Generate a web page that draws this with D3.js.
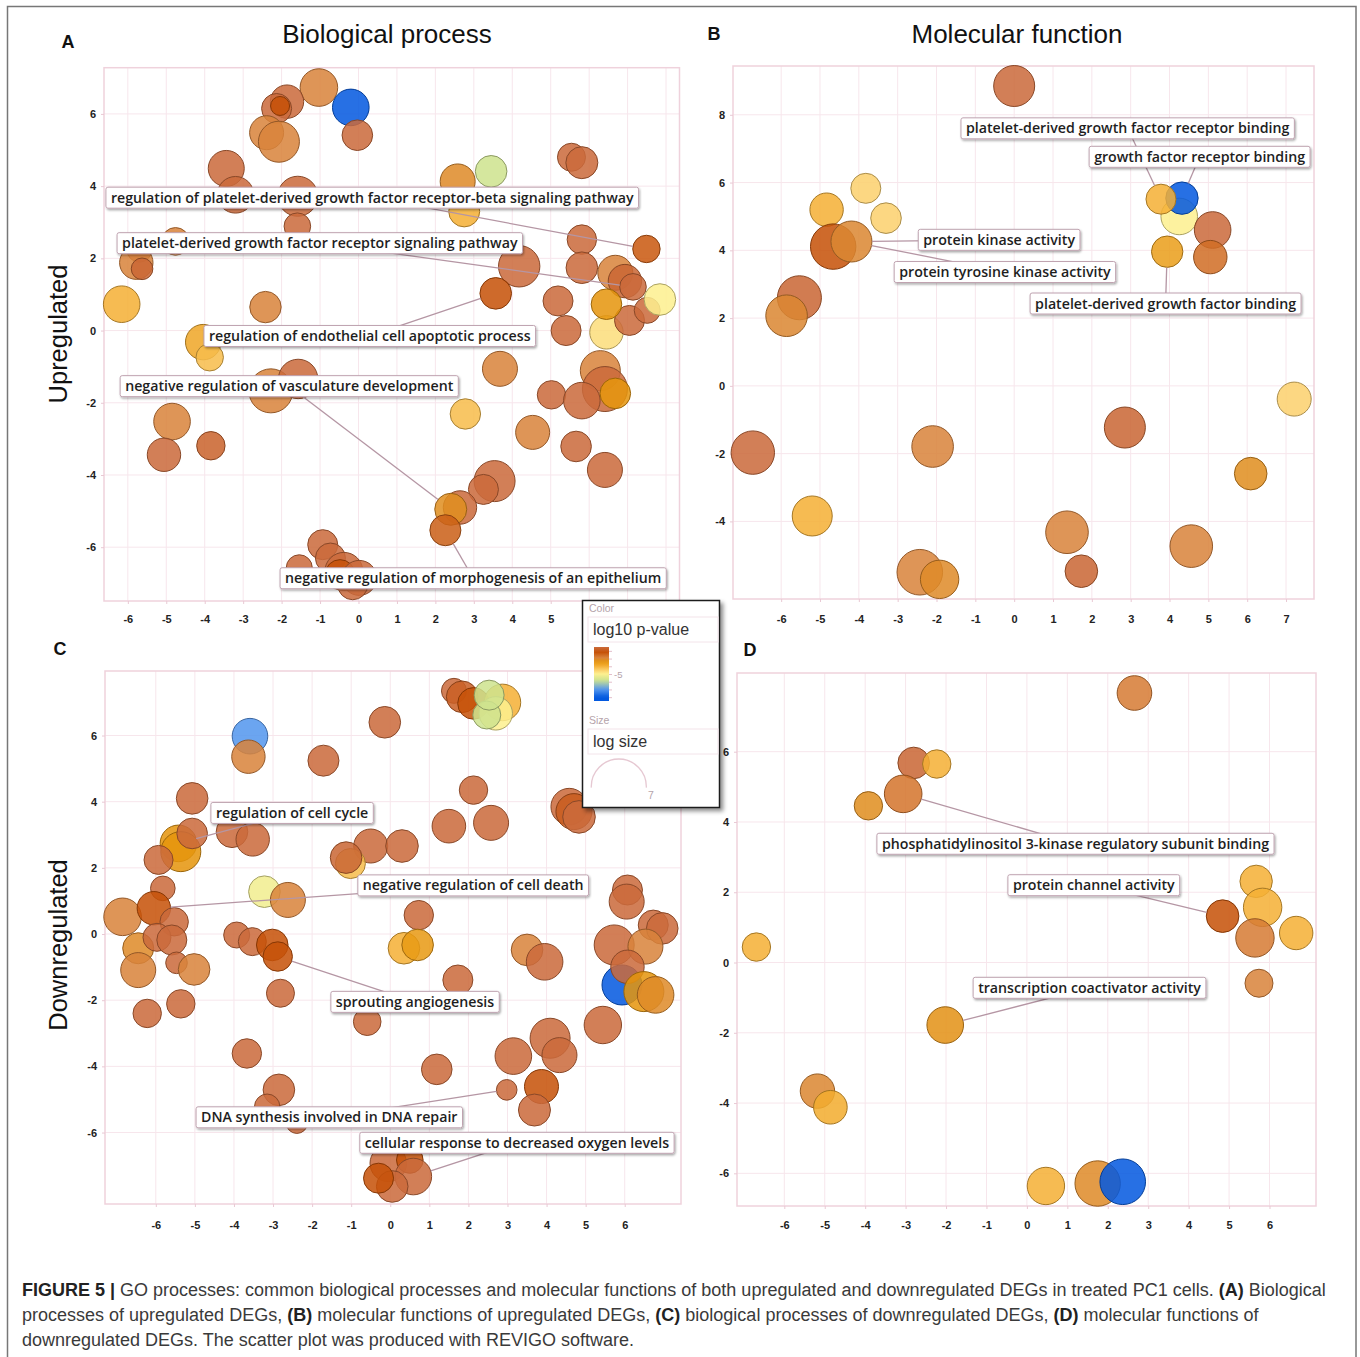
<!DOCTYPE html>
<html>
<head>
<meta charset="utf-8">
<script src="https://cdn.jsdelivr.net/npm/d3@7"></script>
<style>
  body { margin: 0; background: #fff; }
  svg { display: block; }
</style>
</head>
<body>
<svg id="fig" width="1360" height="1357"></svg>
<script>
// ---------- GO term tables: [x, y, log size, log10 p-value] ----------
const upBP = [
  [-1.03, 6.73, 3.76, -2.9], [-0.20, 6.18, 3.66, -8.0], [-0.03, 5.41, 3.06, -1.5],
  [-1.86, 6.34, 3.34, -1.5], [-2.13, 6.15, 3.00, -1.5], [-2.04, 6.22, 1.90, -2.2],
  [-2.39, 5.48, 3.40, -2.9], [-2.07, 5.23, 4.10, -2.9], [-3.44, 4.49, 3.60, -1.5],
  [-3.20, 3.76, 3.66, -1.5], [-1.58, 3.72, 4.00, -1.5], [-1.59, 2.89, 2.66, -1.5],
  [2.58, 4.13, 3.50, -3.1], [3.45, 4.41, 3.16, -5.8], [2.75, 3.30, 3.10, -4.0],
  [5.54, 4.80, 2.80, -1.5], [5.81, 4.65, 3.20, -1.5], [5.81, 2.52, 2.94, -1.5],
  [7.49, 2.26, 2.74, -2.3], [4.18, 1.78, 4.14, -1.5], [5.81, 1.74, 3.16, -1.5],
  [6.68, 1.60, 3.50, -2.9], [6.45, -0.05, 3.34, -4.7], [6.93, 1.37, 3.34, -1.6],
  [7.14, 1.21, 2.66, -1.5], [3.57, 1.03, 3.16, -2.2], [5.19, 0.82, 3.00, -1.5],
  [5.40, 0.00, 3.00, -1.5], [7.05, 0.28, 3.00, -1.5], [7.51, 0.56, 2.60, -1.5],
  [6.45, 0.73, 3.06, -3.4], [7.84, 0.86, 3.16, -5.0], [-5.70, 2.24, 2.50, -1.5],
  [-5.78, 1.88, 3.34, -2.9], [-5.63, 1.71, 2.16, -1.6], [-4.76, 2.47, 2.76, -2.9],
  [-6.16, 0.73, 3.66, -4.0], [-2.42, 0.65, 3.14, -2.9], [3.68, -1.06, 3.50, -2.9],
  [6.29, -1.11, 4.00, -2.9], [6.41, -1.62, 4.50, -1.5], [5.02, -1.78, 2.84, -1.5],
  [5.81, -1.94, 3.66, -1.5], [6.68, -1.74, 3.06, -3.4], [4.53, -2.82, 3.40, -2.9],
  [5.66, -3.21, 3.06, -1.5], [6.41, -3.86, 3.50, -1.5], [2.78, -2.31, 3.04, -4.2],
  [3.54, -4.17, 4.10, -1.5], [3.25, -4.40, 3.00, -1.5], [2.64, -4.90, 3.34, -1.5],
  [2.40, -4.95, 3.20, -3.2], [2.26, -5.53, 3.10, -2.4], [-4.04, -0.32, 3.54, -3.8],
  [-3.87, -0.74, 2.74, -4.2], [-2.28, -1.67, 4.40, -2.9], [-1.57, -1.34, 3.94, -1.5],
  [-4.85, -2.52, 3.66, -2.9], [-5.06, -3.44, 3.34, -1.5], [-3.84, -3.19, 2.84, -1.7],
  [-0.93, -5.93, 3.00, -1.5], [-0.73, -6.30, 3.00, -1.5], [-1.54, -6.57, 2.60, -1.5],
  [-0.38, -6.67, 3.80, -1.5], [-0.48, -6.76, 3.00, -2.2], [0.02, -6.85, 3.50, -1.5],
  [-0.15, -7.04, 3.00, -1.5]
];
const upMF = [
  [0.00, 8.85, 4.10, -1.5], [-3.82, 5.83, 3.00, -4.5], [-4.83, 5.20, 3.34, -4.0],
  [-3.30, 4.95, 3.06, -4.5], [-4.66, 4.11, 4.54, -2.2], [-4.19, 4.26, 4.10, -3.0],
  [-5.53, 2.60, 4.40, -1.6], [-5.86, 2.07, 4.16, -3.0], [4.25, 5.00, 3.66, -5.0],
  [4.32, 5.54, 3.24, -8.0], [3.78, 5.51, 3.00, -4.0], [5.11, 4.60, 3.66, -1.5],
  [3.94, 3.96, 3.14, -3.6], [5.05, 3.80, 3.34, -2.6], [-6.73, -1.97, 4.34, -1.5],
  [-2.10, -1.79, 4.16, -2.9], [2.85, -1.23, 4.10, -1.6], [7.21, -0.39, 3.40, -4.5],
  [6.09, -2.59, 3.26, -3.2], [-5.20, -3.84, 4.00, -4.0], [1.36, -4.32, 4.26, -2.9],
  [4.56, -4.73, 4.26, -2.9], [1.73, -5.47, 3.26, -1.6], [-2.43, -5.50, 4.56, -2.9],
  [-1.92, -5.71, 3.84, -3.1]
];
const downBP = [
  [-3.59, 5.98, 3.56, -7.0], [-3.63, 5.36, 3.34, -2.9], [-1.71, 5.24, 3.10, -1.5],
  [-0.14, 6.40, 3.16, -1.5], [1.63, 7.35, 2.50, -1.5], [1.84, 7.17, 3.16, -1.8],
  [2.13, 6.97, 3.16, -2.2], [2.87, 7.00, 3.66, -4.0], [2.70, 6.67, 3.34, -5.0],
  [2.47, 6.62, 2.80, -5.8], [2.53, 7.22, 3.00, -5.8], [2.13, 4.35, 2.84, -1.5],
  [1.50, 3.26, 3.36, -1.5], [2.58, 3.36, 3.50, -1.5], [-0.50, 2.66, 3.40, -1.5],
  [0.30, 2.66, 3.26, -1.5], [-1.02, 2.13, 3.00, -4.2], [-1.13, 2.31, 3.16, -1.6],
  [4.58, 3.85, 3.66, -1.5], [4.70, 3.70, 3.60, -1.9], [4.83, 3.54, 3.26, -1.5],
  [-5.07, 4.10, 3.16, -1.5], [-5.42, 2.74, 3.66, -3.4], [-5.36, 2.49, 4.00, -3.4],
  [-5.07, 3.04, 3.06, -1.5], [-5.93, 2.24, 2.90, -1.5], [-4.05, 3.09, 3.16, -1.5],
  [-3.52, 2.86, 3.34, -1.5], [-3.22, 1.28, 3.16, -5.2], [-2.62, 1.03, 3.50, -2.9],
  [-5.82, 1.38, 2.46, -1.5], [-6.85, 0.52, 3.76, -2.9], [-6.05, 0.78, 3.34, -2.2],
  [-5.53, 0.37, 2.84, -1.5], [0.73, 0.57, 2.94, -1.5], [6.07, 1.33, 3.00, -1.5],
  [6.05, 0.98, 3.50, -1.5], [6.73, 0.27, 3.00, -1.5], [6.96, 0.17, 3.16, -1.5],
  [-6.45, -0.43, 3.10, -3.1], [-5.97, -0.10, 2.80, -1.5], [-5.59, -0.18, 3.00, -1.5],
  [-6.45, -1.09, 3.50, -2.9], [-5.47, -0.87, 2.16, -1.5], [-5.02, -1.07, 3.16, -2.9],
  [-6.22, -2.40, 2.84, -1.5], [-5.36, -2.11, 2.84, -1.5], [-3.93, -0.03, 2.60, -1.5],
  [-3.53, -0.23, 2.80, -1.5], [-3.02, -0.33, 3.16, -2.2], [-2.88, -0.68, 2.94, -2.2],
  [-2.81, -1.79, 2.80, -1.5], [0.35, -0.43, 3.16, -4.0], [0.70, -0.33, 3.16, -3.5],
  [1.73, -1.39, 3.00, -1.5], [-0.59, -2.65, 2.76, -1.5], [3.50, -0.48, 3.16, -2.9],
  [3.95, -0.84, 3.66, -1.5], [-3.67, -3.61, 2.94, -1.5], [-2.85, -4.71, 3.16, -1.5],
  [-3.15, -5.22, 2.54, -1.5], [-2.39, -5.70, 2.16, -1.5], [1.19, -4.09, 3.06, -1.5],
  [3.15, -3.69, 3.66, -1.5], [4.09, -3.15, 4.00, -1.5], [4.33, -3.66, 3.50, -1.5],
  [2.98, -4.71, 2.06, -1.5], [3.87, -4.61, 3.40, -2.2], [3.69, -5.32, 3.20, -1.5],
  [5.44, -2.75, 3.74, -1.5], [5.73, -0.33, 4.00, -1.5], [6.53, -0.38, 3.50, -2.9],
  [5.93, -1.54, 4.00, -8.0], [6.07, -0.99, 3.34, -1.5], [6.49, -1.74, 4.00, -3.4],
  [6.79, -1.84, 3.66, -3.1], [-0.05, -6.93, 3.66, -1.5], [0.50, -6.83, 2.66, -2.2],
  [0.59, -7.33, 3.66, -1.5], [0.05, -7.63, 3.16, -1.5], [-0.30, -7.38, 3.00, -2.2]
];
const downMF = [
  [2.66, 7.67, 3.46, -2.8], [-2.80, 5.68, 3.16, -1.6], [-2.23, 5.65, 2.84, -4.0],
  [-3.06, 4.80, 3.76, -2.7], [-3.92, 4.46, 2.84, -3.2], [5.67, 2.31, 3.24, -4.0],
  [5.83, 1.57, 3.84, -4.0], [5.64, 0.70, 3.84, -2.8], [4.84, 1.32, 3.26, -2.2],
  [6.66, 0.84, 3.34, -4.0], [-6.69, 0.44, 2.84, -4.0], [5.74, -0.59, 2.80, -2.9],
  [-2.02, -1.78, 3.66, -3.3], [-5.18, -3.66, 3.44, -3.0], [-4.86, -4.12, 3.36, -3.9],
  [0.47, -6.36, 3.74, -4.0], [1.75, -6.29, 4.54, -3.1], [2.37, -6.24, 4.56, -8.0]
];

// ---------- named terms: [text, row index of the term] ----------
const upBPLabels = [
  ["regulation of platelet-derived growth factor receptor-beta signaling pathway", 18],
  ["platelet-derived growth factor receptor signaling pathway", 24],
  ["regulation of endothelial cell apoptotic process", 25],
  ["negative regulation of vasculature development", 51],
  ["negative regulation of morphogenesis of an epithelium", 52]
];
const upMFLabels = [
  ["platelet-derived growth factor receptor binding", 10],
  ["growth factor receptor binding", 9],
  ["protein kinase activity", 5],
  ["protein tyrosine kinase activity", 5],
  ["platelet-derived growth factor binding", 12]
];
const downBPLabels = [
  ["regulation of cell cycle", 22],
  ["negative regulation of cell death", 32],
  ["sprouting angiogenesis", 50],
  ["DNA synthesis involved in DNA repair", 66],
  ["cellular response to decreased oxygen levels", 78]
];
const downMFLabels = [
  ["phosphatidylinositol 3-kinase regulatory subunit binding", 3],
  ["protein channel activity", 8],
  ["transcription coactivator activity", 12]
];

// ---------- tick labels ----------
const upBPXTicks = [-6, -5, -4, -3, -2, -1, 0, 1, 2, 3, 4, 5];
const upMFXTicks = [-6, -5, -4, -3, -2, -1, 0, 1, 2, 3, 4, 5, 6, 7];
const downXTicks = [-6, -5, -4, -3, -2, -1, 0, 1, 2, 3, 4, 5, 6];
const upMFYTicks = [-4, -2, 0, 2, 4, 6, 8];
const evenYTicks = [-6, -4, -2, 0, 2, 4, 6];

// ---------- colour (log10 p-value) and size (log size) ----------
const pStops  = [-1.5, -2.2, -2.9, -3.4, -4.0, -4.5, -5.0, -5.8, -7.0, -8.0];
const pColors = ['#cb6a3b', '#c65208', '#d9833b', '#e5950d', '#f4b036',
                 '#fcd16d', '#fdf08f', '#cee38e', '#5396ee', '#0359df'];
const color = d3.scaleLinear().domain(pStops).range(pColors)
  .interpolate(d3.interpolateRgb).clamp(true);
const radius = d3.scaleLinear().domain([0, 7]).range([0, 35]);

const FONT = '"Liberation Sans", Arial, Helvetica, sans-serif';
const LABEL_FONT = '"Open Sans", "DejaVu Sans", sans-serif';

const svg = d3.select('#fig');
const defs = svg.append('defs');
defs.append('filter').attr('id', 'boxShadow').attr('x', '-10%').attr('y', '-30%')
  .attr('width', '130%').attr('height', '170%')
  .append('feDropShadow').attr('dx', 1).attr('dy', 1.5).attr('stdDeviation', 1)
  .attr('flood-color', '#000').attr('flood-opacity', 0.35);
defs.append('filter').attr('id', 'legendShadow').attr('x', '-10%').attr('y', '-10%')
  .attr('width', '130%').attr('height', '130%')
  .append('feDropShadow').attr('dx', 3).attr('dy', 3).attr('stdDeviation', 2)
  .attr('flood-color', '#000').attr('flood-opacity', 0.45);

// outer figure frame
svg.append('rect').attr('x', 7.5).attr('y', 6.5).attr('width', 1348.5).attr('height', 1380)
  .attr('fill', 'none').attr('stroke', '#777').attr('stroke-width', 1.5);

// ---------- panel layout ----------
const panels = [
  { letter: 'A', letterPos: [68, 48], rows: upBP, labels: upBPLabels,
    labelAt: [[-6.57, 3.68], [-6.28, 2.42], [-4.02, -0.15], [-6.2, -1.54], [-2.04, -6.86]],
    xTicks: upBPXTicks, yTicks: evenYTicks, gridX: d3.range(-6, 9),
    frame: { left: 104, right: 679.5, top: 67.7, bottom: 601 },
    xDom: [-6.62, 8.35], yDom: [-7.49, 7.28], xGap: 11 },
  { letter: 'B', letterPos: [714, 40], rows: upMF, labels: upMFLabels,
    labelAt: [[-1.37, 7.6], [1.93, 6.76], [-2.47, 4.31], [-3.09, 3.36], [0.41, 2.43]],
    xTicks: upMFXTicks, yTicks: upMFYTicks,
    frame: { left: 733, right: 1314, top: 66, bottom: 599 },
    xDom: [-7.24, 7.72], yDom: [-6.29, 9.44], xGap: 13 },
  { letter: 'C', letterPos: [60, 655], rows: downBP, labels: downBPLabels,
    labelAt: [[-4.59, 3.66], [-0.83, 1.47], [-1.52, -2.05], [-4.97, -5.54], [-0.78, -6.31]],
    xTicks: downXTicks, yTicks: evenYTicks,
    frame: { left: 105, right: 681, top: 671, bottom: 1204 },
    xDom: [-7.3, 7.44], yDom: [-8.16, 7.95], xGap: 14 },
  { letter: 'D', letterPos: [750, 656], rows: downMF, labels: downMFLabels,
    labelAt: [[-3.71, 3.38], [-0.47, 2.2], [-1.33, -0.72]],
    xTicks: downXTicks, yTicks: evenYTicks,
    frame: { left: 737, right: 1316, top: 673, bottom: 1206 },
    xDom: [-7.17, 7.15], yDom: [-6.93, 8.24], xGap: 12 }
];

function drawPanel(p) {
  const f = p.frame;
  const g = svg.append('g');
  const x = d3.scaleLinear().domain(p.xDom).range([f.left, f.right]);
  const y = d3.scaleLinear().domain(p.yDom).range([f.bottom, f.top]);

  // grid
  g.append('g').selectAll('line').data(p.gridX || p.xTicks).join('line')
    .attr('x1', d => x(d)).attr('x2', d => x(d)).attr('y1', f.top).attr('y2', f.bottom)
    .attr('stroke', '#f7e6ec').attr('stroke-width', 1);
  g.append('g').selectAll('line').data(p.yTicks).join('line')
    .attr('y1', d => y(d)).attr('y2', d => y(d)).attr('x1', f.left).attr('x2', f.right)
    .attr('stroke', '#f7e6ec').attr('stroke-width', 1);
  g.append('rect').attr('x', f.left).attr('y', f.top)
    .attr('width', f.right - f.left).attr('height', f.bottom - f.top)
    .attr('fill', 'none').attr('stroke', '#efd2dc').attr('stroke-width', 1.5);

  // axes
  const fmt = d => String(d);
  const xa = g.append('g').attr('transform', `translate(0,${f.bottom})`)
    .call(d3.axisBottom(x).tickValues(p.xTicks).tickSize(3).tickPadding(p.xGap).tickFormat(fmt));
  const ya = g.append('g').attr('transform', `translate(${f.left},0)`)
    .call(d3.axisLeft(y).tickValues(p.yTicks).tickSize(3).tickPadding(5).tickFormat(fmt));
  [xa, ya].forEach(a => {
    a.select('.domain').remove();
    a.selectAll('.tick line').attr('stroke', '#e9c9d4');
    a.selectAll('.tick text').attr('fill', '#222').attr('font-family', FONT)
      .attr('font-weight', 'bold').attr('font-size', 11);
  });

  // term bubbles
  g.append('g').selectAll('circle').data(p.rows).join('circle')
    .attr('cx', d => x(d[0])).attr('cy', d => y(d[1])).attr('r', d => radius(d[2]))
    .attr('fill', d => color(d[3])).attr('fill-opacity', 0.86)
    .attr('stroke', d => d3.color(color(d[3])).darker(1.1)).attr('stroke-width', 1);

  // labelled terms: leader lines under boxes
  const leaderG = g.append('g');
  const boxG = g.append('g');
  p.labels.forEach(([text, idx], i) => {
    const t = p.rows[idx];
    const bx = x(p.labelAt[i][0]);
    const cy = y(p.labelAt[i][1]);
    const lab = boxG.append('g');
    const rect = lab.append('rect');
    const txt = lab.append('text').attr('x', bx + 5).attr('y', cy + 5)
      .attr('font-family', LABEL_FONT).attr('font-weight', 600).attr('font-size', 14.2)
      .attr('fill', '#1e1e1e').text(text);
    const w = txt.node().getComputedTextLength() + 10;
    const h = 21;
    rect.attr('x', bx).attr('y', cy - h / 2).attr('width', w).attr('height', h)
      .attr('rx', 2).attr('fill', '#fff').attr('stroke', '#bfa3b0').attr('stroke-width', 1)
      .attr('filter', 'url(#boxShadow)');
    const cx = bx + w / 2;
    const tx = x(t[0]), ty = y(t[1]), r = radius(t[2]);
    const dx = tx - cx, dy = ty - cy, len = Math.hypot(dx, dy);
    leaderG.append('line').attr('x1', cx).attr('y1', cy)
      .attr('x2', tx - dx / len * r).attr('y2', ty - dy / len * r)
      .attr('stroke', '#b596a4').attr('stroke-width', 1.3);
  });

  svg.append('text').attr('x', p.letterPos[0]).attr('y', p.letterPos[1])
    .attr('text-anchor', 'middle').attr('font-family', FONT).attr('font-weight', 'bold')
    .attr('font-size', 18).attr('fill', '#111').text(p.letter);
}
panels.forEach(drawPanel);

// column and row titles
const titles = [['Biological process', 387, 43], ['Molecular function', 1017, 43]];
titles.forEach(([t, tx, ty]) => svg.append('text').attr('x', tx).attr('y', ty)
  .attr('text-anchor', 'middle').attr('font-family', FONT).attr('font-size', 26)
  .attr('fill', '#111').text(t));
const rowTitles = [['Upregulated', 334], ['Downregulated', 945]];
rowTitles.forEach(([t, cy]) => svg.append('text')
  .attr('transform', `translate(67,${cy}) rotate(-90)`)
  .attr('text-anchor', 'middle').attr('font-family', FONT).attr('font-size', 25.5)
  .attr('fill', '#111').text(t));

// ---------- legend ----------
const leg = svg.append('g');
leg.append('rect').attr('x', 582.5).attr('y', 600.5).attr('width', 137).attr('height', 207)
  .attr('fill', '#fff').attr('stroke', '#1a1a1a').attr('stroke-width', 1.5)
  .attr('filter', 'url(#legendShadow)');
const legSmall = (t, lx, ly) => leg.append('text').attr('x', lx).attr('y', ly)
  .attr('font-family', FONT).attr('font-size', 10.5).attr('fill', '#b5a3aa').text(t);
const legField = (t, fy) => {
  leg.append('rect').attr('x', 588).attr('y', fy).attr('width', 130).attr('height', 25)
    .attr('fill', 'none').attr('stroke', '#f3e4ea');
  leg.append('text').attr('x', 593).attr('y', fy + 18).attr('font-family', FONT)
    .attr('font-size', 16).attr('fill', '#333').text(t);
};
legSmall('Color', 589, 612);
legField('log10 p-value', 617);
legSmall('Size', 589, 724);
legField('log size', 729);

const legScale = d3.scaleLinear().domain([-1.5, -8.5]).range([647, 701]);
const grad = defs.append('linearGradient').attr('id', 'pGrad')
  .attr('x1', 0).attr('y1', 0).attr('x2', 0).attr('y2', 1);
d3.range(0, 1.0001, 0.05).forEach(s => {
  grad.append('stop').attr('offset', s)
    .attr('stop-color', color(legScale.invert(647 + s * 54)));
});
leg.append('rect').attr('x', 594).attr('y', 647).attr('width', 15).attr('height', 54)
  .attr('fill', 'url(#pGrad)');
const legAxis = leg.append('g').attr('transform', 'translate(609,0)')
  .call(d3.axisRight(legScale).tickValues(d3.range(-2, -8.5, -1)).tickSize(3).tickPadding(2)
    .tickFormat(d => d === -5 ? '-5' : ''));
legAxis.select('.domain').remove();
legAxis.selectAll('.tick line').attr('stroke', '#e3bfcb');
legAxis.selectAll('.tick text').attr('font-family', FONT).attr('font-size', 9.5).attr('fill', '#b5a3aa');

const arcPath = d3.path();
arcPath.arc(618.8, 786.5, 27.5, Math.PI - 0.04, 2 * Math.PI + 0.04);
leg.append('path').attr('d', arcPath.toString()).attr('fill', 'none')
  .attr('stroke', '#e6c8d2').attr('stroke-width', 1.3);
legSmall('7', 648, 799);

// ---------- caption ----------
const captionLines = [
  [['FIGURE 5 |', true], [' GO processes: common biological processes and molecular functions of both upregulated and downregulated DEGs in treated PC1 cells. ', false], ['(A)', true], [' Biological', false]],
  [['processes of upregulated DEGs, ', false], ['(B)', true], [' molecular functions of upregulated DEGs, ', false], ['(C)', true], [' biological processes of downregulated DEGs, ', false], ['(D)', true], [' molecular functions of', false]],
  [['downregulated DEGs. The scatter plot was produced with REVIGO software.', false]]
];
captionLines.forEach((runs, i) => {
  const t = svg.append('text').attr('x', 22).attr('y', 1296 + i * 25)
    .attr('font-family', FONT).attr('font-size', 18).attr('fill', '#3a3a3a')
    .attr('xml:space', 'preserve').style('white-space', 'pre');
  runs.forEach(([s, b]) => t.append('tspan').attr('font-weight', b ? 'bold' : 'normal')
    .attr('fill', b ? '#222' : '#3a3a3a').text(s));
});
</script>
</body>
</html>
